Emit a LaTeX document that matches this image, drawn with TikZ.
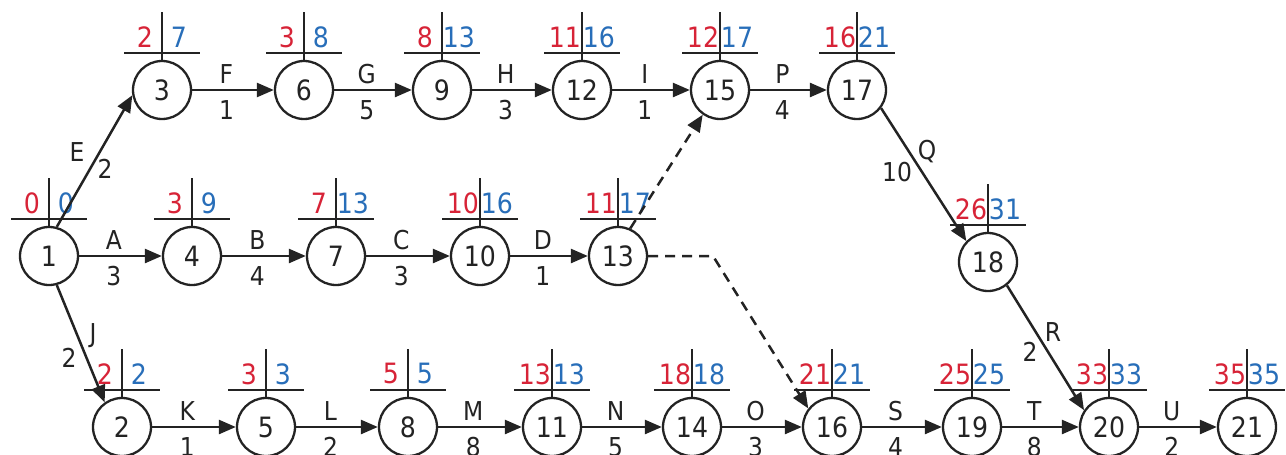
\documentclass[tikz,border=0pt]{standalone}
\usepackage{fontspec}
\setmainfont{DejaVu Sans}[FakeStretch=0.9]
\usetikzlibrary{arrows.meta}
\definecolor{esred}{RGB}{215,35,55}
\definecolor{lsblue}{RGB}{40,110,185}
\definecolor{ink}{RGB}{35,35,35}
\tikzset{
 ev/.style={circle,draw=ink,line width=2.3pt,minimum size=58pt,inner sep=0pt,font=\fontsize{28}{28}\selectfont,text=ink},
 act/.style={draw=ink,line width=2.5pt,-{Triangle[length=17pt,width=14pt]}},
 dum/.style={act,dash pattern=on 10pt off 7pt},
 lbl/.style={font=\fontsize{26}{26}\selectfont,text=ink,inner sep=0pt},
 up/.style={lbl,above=5pt,pos=0.42},
 dn/.style={lbl,below=9pt,pos=0.42},
 es/.style={font=\fontsize{28}{28}\selectfont,text=esred,inner sep=0pt},
 ls/.style={font=\fontsize{28}{28}\selectfont,text=lsblue,inner sep=0pt},
 tick/.style={draw=ink,line width=2.3pt}
}
\newcommand\evlab[3]{%
 \draw[tick] (#1.north) -- ([yshift=48pt]#1.north);
 \draw[tick] ([xshift=-38pt,yshift=7pt]#1.north) -- ([xshift=38pt,yshift=7pt]#1.north);
 \node[es] (#1es) at ([xshift=-17pt,yshift=23pt]#1.north) {#2};
 \node[ls] (#1ls) at ([xshift=17pt,yshift=23pt]#1.north) {#3};
}
\begin{document}
\begin{tikzpicture}[x=1pt,y=-1pt]
\useasboundingbox (0,0) rectangle (1286,455);
% row 1
\node[ev] (n3) at (162,90) {3};
\node[ev] (n6) at (304,90) {6};
\node[ev] (n9) at (442,90) {9};
\node[ev] (n12) at (582,90) {12};
\node[ev] (n15) at (720,90) {15};
\node[ev] (n17) at (857,90) {17};
% row 2
\node[ev] (n1) at (49,256) {1};
\node[ev] (n4) at (192,256) {4};
\node[ev] (n7) at (336,256) {7};
\node[ev] (n10) at (480,256) {10};
\node[ev] (n13) at (618,256) {13};
\node[ev] (n18) at (988,262) {18};
% row 3
\node[ev] (n2) at (122,427) {2};
\node[ev] (n5) at (266,427) {5};
\node[ev] (n8) at (408,427) {8};
\node[ev] (n11) at (552,427) {11};
\node[ev] (n14) at (692,427) {14};
\node[ev] (n16) at (832,427) {16};
\node[ev] (n19) at (972,427) {19};
\node[ev] (n20) at (1109,427) {20};
\node[ev] (n21) at (1247,427) {21};
% time labels
\evlab{n1}{0}{0}
\evlab{n3}{2}{7}
\evlab{n6}{3}{8}
\evlab{n9}{8}{13}
\evlab{n12}{11}{16}
\evlab{n15}{12}{17}
\evlab{n17}{16}{21}
\evlab{n4}{3}{9}
\evlab{n7}{7}{13}
\evlab{n10}{10}{16}
\evlab{n13}{11}{17}
\evlab{n18}{26}{31}
\evlab{n2}{2}{2}
\evlab{n5}{3}{3}
\evlab{n8}{5}{5}
\evlab{n11}{13}{13}
\evlab{n14}{18}{18}
\evlab{n16}{21}{21}
\evlab{n19}{25}{25}
\evlab{n20}{33}{33}
\evlab{n21}{35}{35}
% horizontal activities
\draw[act] (n3) -- node[up] (lF) {F} node[dn] (dF) {1} (n6);
\draw[act] (n6) -- node[up] (lG) {G} node[dn] (dG) {5} (n9);
\draw[act] (n9) -- node[up] (lH) {H} node[dn] (dH) {3} (n12);
\draw[act] (n12) -- node[up] (lI) {I} node[dn] (dI) {1} (n15);
\draw[act] (n15) -- node[up] (lP) {P} node[dn] (dP) {4} (n17);
\draw[act] (n1) -- node[up] (lA) {A} node[dn] (dA) {3} (n4);
\draw[act] (n4) -- node[up] (lB) {B} node[dn] (dB) {4} (n7);
\draw[act] (n7) -- node[up] (lC) {C} node[dn] (dC) {3} (n10);
\draw[act] (n10) -- node[up] (lD) {D} node[dn] (dD) {1} (n13);
\draw[act] (n2) -- node[up] (lK) {K} node[dn] (dK) {1} (n5);
\draw[act] (n5) -- node[up] (lL) {L} node[dn] (dL) {2} (n8);
\draw[act] (n8) -- node[up] (lM) {M} node[dn] (dM) {8} (n11);
\draw[act] (n11) -- node[up] (lN) {N} node[dn] (dN) {5} (n14);
\draw[act] (n14) -- node[up] (lO) {O} node[dn] (dO) {3} (n16);
\draw[act] (n16) -- node[up] (lS) {S} node[dn] (dS) {4} (n19);
\draw[act] (n19) -- node[up] (lT) {T} node[dn] (dT) {8} (n20);
\draw[act] (n20) -- node[up] (lU) {U} node[dn] (dU) {2} (n21);
% diagonal activities
\draw[act] (n1.75) -- (n3.190);
\node[lbl] (lE) at (77,152) {E};
\node[lbl] (dE) at (105,169) {2};
\draw[act] (n1.285) -- (n2.125);
\node[lbl] (lJ) at (93,336) {J};
\node[lbl] (dJ) at (69,358) {2};
\draw[act] (n17.-37) -- (n18.136);
\node[lbl] (lQ) at (927,152) {Q};
\node[lbl] (dQ) at (897,172) {10};
\draw[act] (n18.-51) -- (n20.146);
\node[lbl] (lR) at (1053,332) {R};
\node[lbl] (dR) at (1030,352) {2};
% dummy activities
\coordinate (kink) at (713,256);
\draw[dum] (n13.66) -- (n15.235);
\draw[dum] (n13.east) -- (kink) -- (n16.142);
\end{tikzpicture}
\end{document}
